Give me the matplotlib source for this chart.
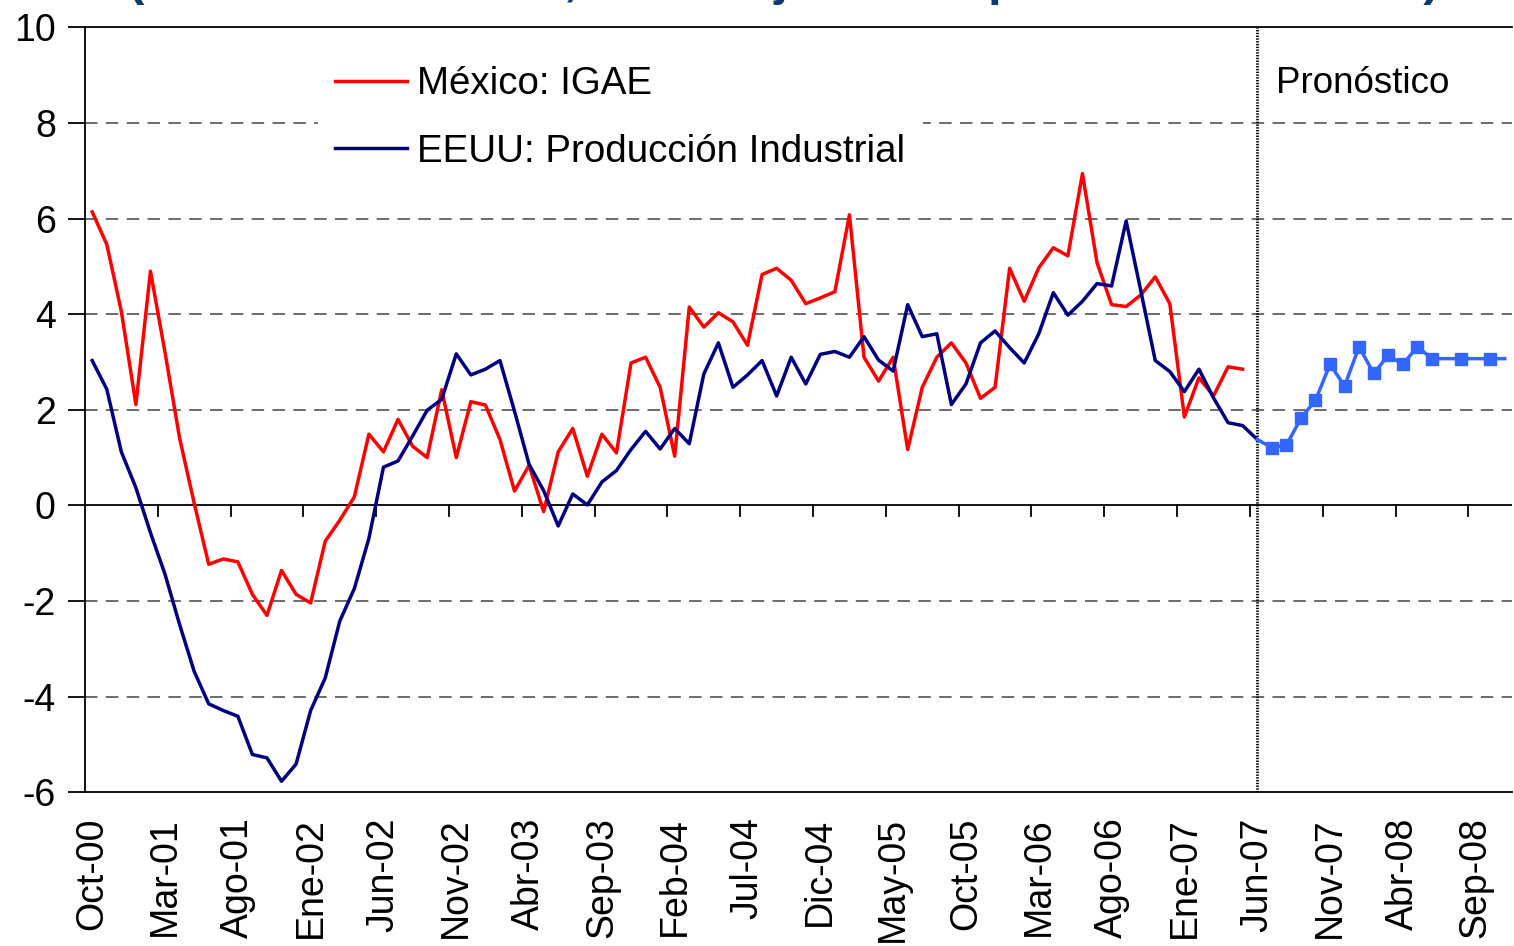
import numpy as np
import matplotlib
matplotlib.use("Agg")
import matplotlib.pyplot as plt

plt.rcParams['font.family'] = ['Liberation Sans', 'DejaVu Sans']
plt.rcParams['lines.scale_dashes'] = False
plt.rcParams['axes.unicode_minus'] = False

# monthly tick labels (every 5 months, starting Oct-00)
tick_labels = ["Oct-00", "Mar-01", "Ago-01", "Ene-02", "Jun-02", "Nov-02",
               "Abr-03", "Sep-03", "Feb-04", "Jul-04", "Dic-04", "May-05",
               "Oct-05", "Mar-06", "Ago-06", "Ene-07", "Jun-07", "Nov-07",
               "Abr-08", "Sep-08"]

# México: IGAE, Oct-00 .. May-07
mexico = [6.14, 5.46, 4.06, 2.11, 4.90, 3.20, 1.41, 0.05, -1.23, -1.12,
          -1.18, -1.86, -2.30, -1.36, -1.86, -2.04, -0.75, -0.31, 0.18, 1.49,
          1.12, 1.80, 1.24, 1.00, 2.42, 1.00, 2.17, 2.10, 1.38, 0.30,
          0.84, -0.13, 1.12, 1.61, 0.61, 1.49, 1.10, 2.98, 3.10, 2.47,
          1.03, 4.15, 3.73, 4.03, 3.84, 3.35, 4.83, 4.96, 4.71, 4.22,
          4.34, 4.47, 6.08, 3.10, 2.60, 3.10, 1.17, 2.47, 3.10, 3.40,
          2.98, 2.24, 2.47, 4.96, 4.27, 4.97, 5.39, 5.22, 6.94, 5.08,
          4.20, 4.16, 4.40, 4.78, 4.22, 1.85, 2.67, 2.29, 2.90, 2.85]

# EEUU: Producción Industrial, Oct-00 .. Jun-07
eeuu = [3.03, 2.43, 1.12, 0.37, -0.57, -1.44, -2.49, -3.47, -4.15, -4.29,
        -4.41, -5.21, -5.28, -5.77, -5.41, -4.29, -3.61, -2.42, -1.74, -0.69,
        0.80, 0.93, 1.45, 1.99, 2.22, 3.17, 2.73, 2.85, 3.03, 1.97,
        0.86, 0.31, -0.43, 0.24, 0.01, 0.49, 0.73, 1.17, 1.55, 1.18,
        1.61, 1.29, 2.75, 3.40, 2.47, 2.73, 3.03, 2.29, 3.10, 2.54,
        3.16, 3.22, 3.10, 3.53, 3.04, 2.81, 4.20, 3.53, 3.59, 2.11,
        2.54, 3.40, 3.65, 3.30, 2.98, 3.59, 4.45, 3.98, 4.27, 4.64,
        4.59, 5.95, 4.50, 3.03, 2.80, 2.38, 2.85, 2.25, 1.73, 1.67,
        1.38]

# pronóstico EEUU, Jun-07 .. Nov-08
forecast = [1.38, 1.21, 1.26, 1.82, 2.20, 2.95, 2.50, 3.32, 2.76, 3.14,
            2.95, 3.32, 3.07, 3.07, 3.07, 3.07, 3.07, 3.07]
forecast_marks = [1, 2, 3, 4, 5, 6, 7, 8, 9, 10, 11, 12, 14, 16]

n_months = 98
x_mex = np.arange(len(mexico))
x_us = np.arange(len(eeuu))
x_fc = np.arange(len(forecast)) + len(eeuu) - 1

fig = plt.figure(figsize=(15.14, 9.46), dpi=100)
ax = fig.add_axes([0.0561, 0.1625, 0.9426, 0.8086])

# dashed gridlines
for yv in [8, 6, 4, 2, -2, -4]:
    ax.axhline(yv, color="#606060", lw=1.3, dashes=(9, 6), zorder=1)
ax.axhline(0, color="black", lw=1.3, zorder=1)

ax.plot(x_mex, mexico, color="#FF0000", lw=2.5, label="México: IGAE", zorder=3)
ax.plot(x_us, eeuu, color="#000080", lw=2.5,
        label="EEUU: Producción Industrial", zorder=3)
ax.plot(x_fc, forecast, color="#3366FF", lw=2.5, marker="s", ms=8,
        markevery=forecast_marks, zorder=4)

ax.axvline(len(eeuu) - 1, color="black", lw=2, ls=(0, (1, 1)), zorder=2)
ax.text(81.3, 8.63, "Pronóstico", fontsize=26.5, ha="left", va="baseline")

# tick marks on the zero line (between categories)
for xt in np.arange(4.5, n_months, 5):
    ax.plot([xt, xt], [0, -0.22], color="black", lw=1.3, zorder=1)

ax.set_xlim(-0.5, n_months - 0.5)
ax.set_ylim(-6, 10)
ax.set_yticks(np.arange(-6, 11, 2))
ax.tick_params(axis="y", labelsize=27, length=12, width=1.3, pad=9)
ax.set_xticks(np.arange(0, n_months, 5))
ax.set_xticklabels(tick_labels, rotation=90, fontsize=27)
ax.tick_params(axis="x", length=0, pad=18)

ax.spines["right"].set_visible(False)
for s in ["top", "bottom", "left"]:
    ax.spines[s].set_linewidth(1.3)

leg = ax.legend(loc="upper left", bbox_to_anchor=(0.1634, 0.972),
                fontsize=27.7, handlelength=1.87, handletextpad=0.26,
                labelspacing=0.82, borderpad=0.45, frameon=True,
                fancybox=False, borderaxespad=0)
leg.get_frame().set_facecolor("white")
leg.get_frame().set_edgecolor("none")
leg.get_frame().set_alpha(1)
leg.set_zorder(5)

# title cut off at the top of the picture, as in the source
fig.text(0.518, 1.0 + 5 / 946,
         "(Variación % anual, series ajustadas por estacionalidad)",
         fontsize=35.5, fontweight="bold", color="#0B3A6E",
         ha="center", va="baseline")

fig.savefig("out.png", dpi=100)
